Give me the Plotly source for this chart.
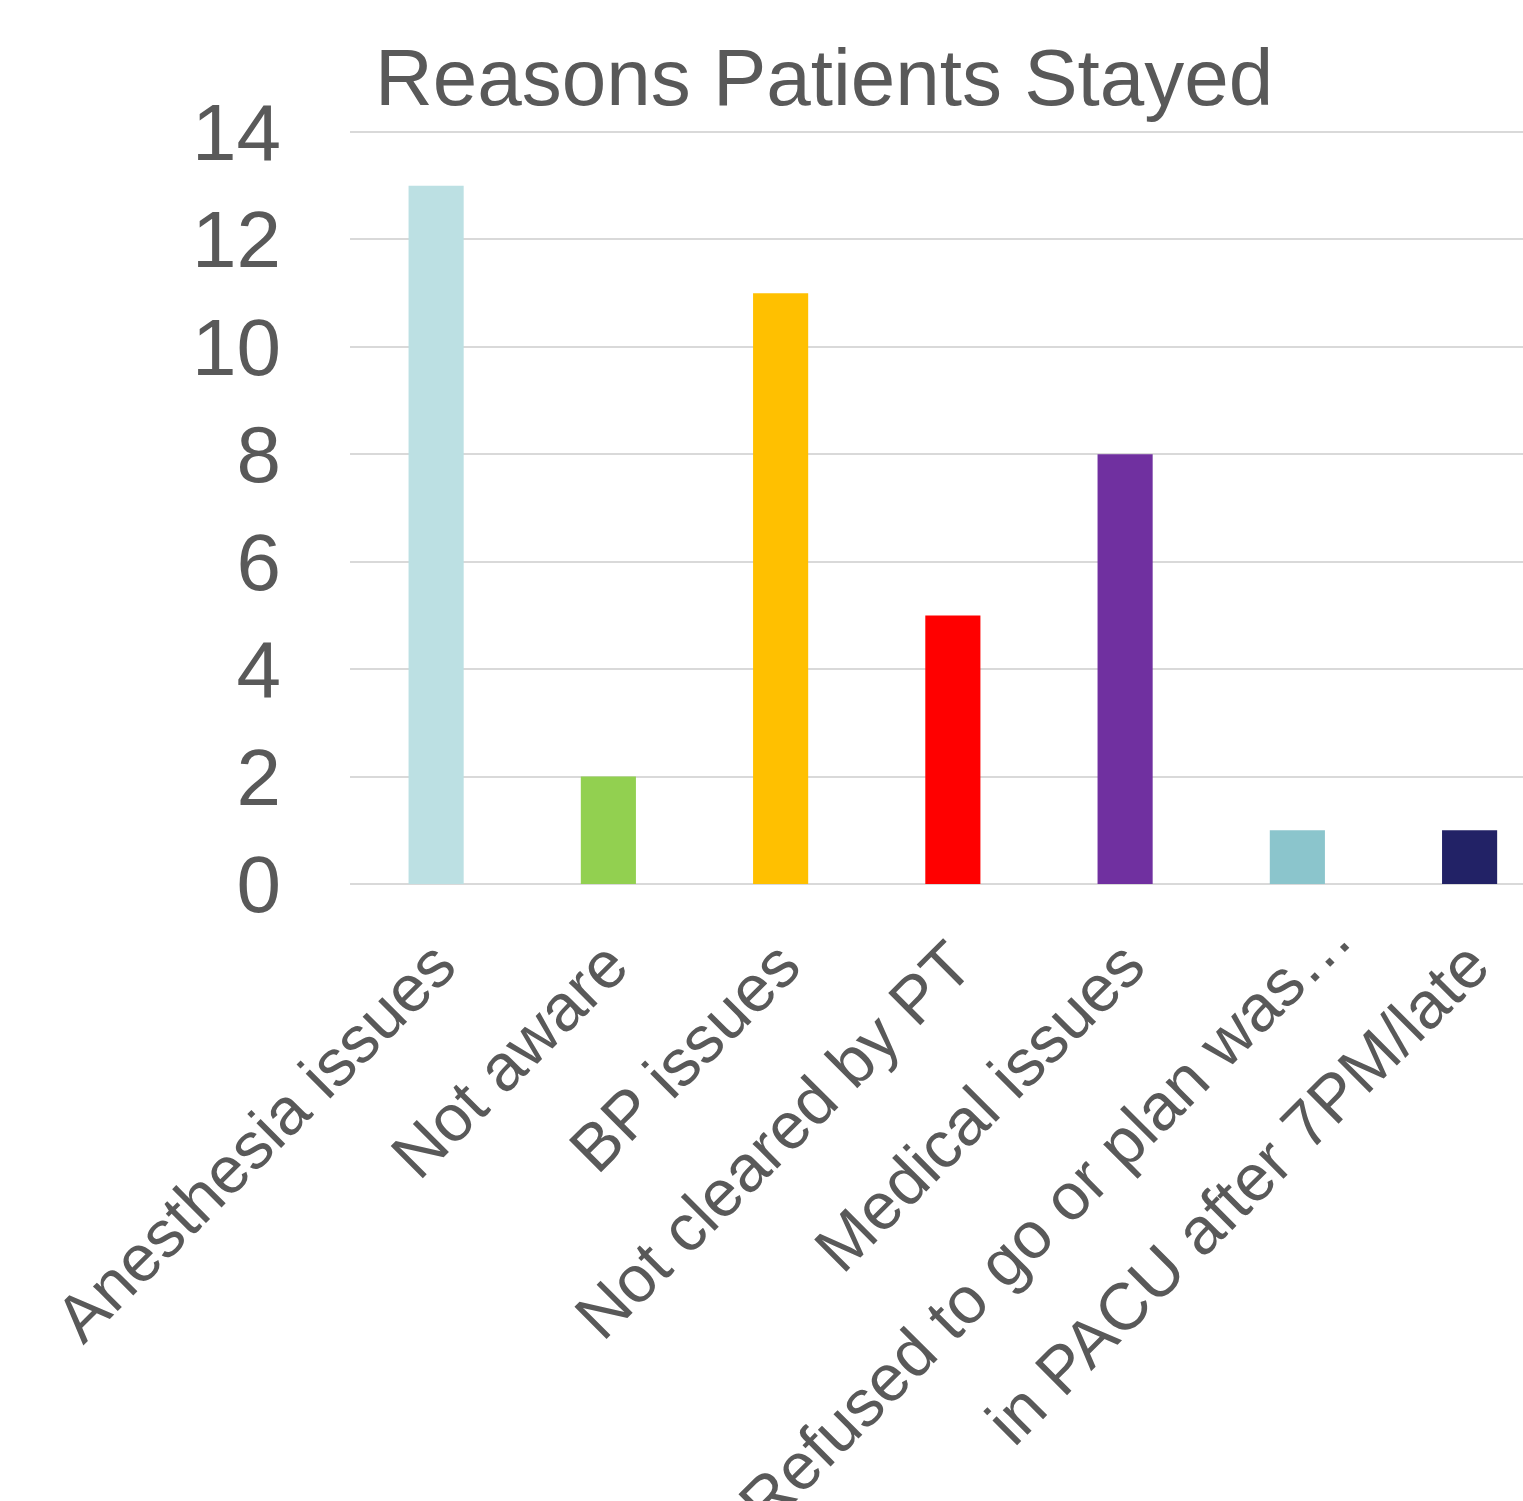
import plotly.graph_objects as go

categories = ["Anesthesia issues", "Not aware", "BP issues", "Not cleared by PT",
              "Medical issues", "Refused to go or plan was…", "in PACU after 7PM/late"]
values = [13, 2, 11, 5, 8, 1, 1]
colors = ["#BCE0E3", "#92D050", "#FFC000", "#FF0000", "#7030A0", "#8BC5CC", "#222266"]
y_ticks = [0, 2, 4, 6, 8, 10, 12, 14]

FONT = "Liberation Sans, Arial, sans-serif"
GREY = "#595959"

# the 6th label sits a little further along its slant in the reference -> draw it on an overlay axis
shifted_idx = 5
main_ticktext = [("" if i == shifted_idx else c) for i, c in enumerate(categories)]
X_RANGE = [-0.5, 6.31]

fig = go.Figure()
fig.add_trace(go.Bar(x=categories, y=values, marker=dict(color=colors, line=dict(width=0)),
                     width=0.32, xaxis="x", yaxis="y"))
# invisible helper trace so the overlay axis is drawn
fig.add_trace(go.Scatter(x=[shifted_idx], y=[0], mode="markers", marker=dict(opacity=0),
                         hoverinfo="skip", xaxis="x2", yaxis="y", showlegend=False))

fig.update_layout(
    width=1523, height=1501, autosize=False,
    margin=dict(l=350, r=0, t=131, b=617, pad=0),
    paper_bgcolor="white", plot_bgcolor="white",
    showlegend=False,
    title=dict(text="Reasons Patients Stayed", font=dict(family=FONT, size=80, color=GREY),
               xref="container", x=375 / 1523, xanchor="left",
               yref="container", y=1 - 49 / 1501, yanchor="top"),
    font=dict(family=FONT, color=GREY),
    xaxis=dict(type="category", range=X_RANGE, tickangle=-45,
               tickvals=categories, ticktext=main_ticktext,
               tickfont=dict(family=FONT, size=66, color=GREY),
               showgrid=False, showline=False, zeroline=False, ticks="",
               ticklabelstandoff=28, automargin=False),
    xaxis2=dict(overlaying="x", anchor="y", side="bottom", type="linear", range=X_RANGE,
                tickvals=[shifted_idx], ticktext=[categories[shifted_idx]], tickangle=-45,
                tickfont=dict(family=FONT, size=66, color=GREY),
                showgrid=False, showline=False, zeroline=False, ticks="",
                ticklabelstandoff=0, ticklabelshift=35, automargin=False),
    yaxis=dict(range=[0, 14.02], tickvals=y_ticks, ticktext=[str(v) for v in y_ticks],
               tickfont=dict(family=FONT, size=80, color=GREY),
               showgrid=True, gridcolor="#D9D9D9", gridwidth=2,
               zeroline=True, zerolinecolor="#D9D9D9", zerolinewidth=2,
               showline=False, ticks="", ticklabelstandoff=68, automargin=False),
)

fig.write_html("out.html")
